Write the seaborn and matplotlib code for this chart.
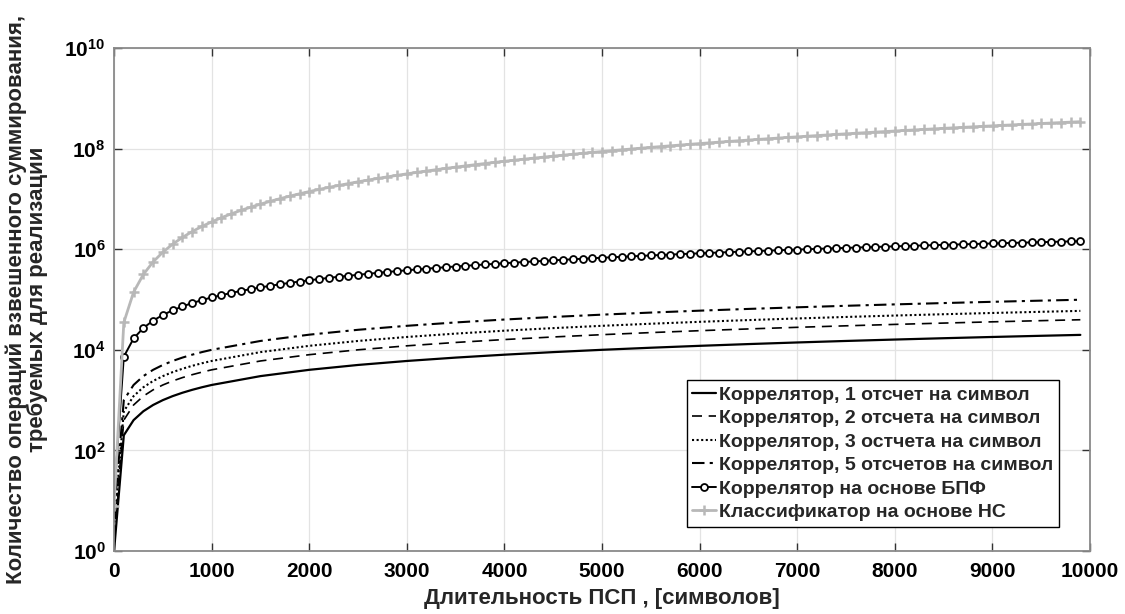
import numpy as np
import pandas as pd
import seaborn as sns
import matplotlib
matplotlib.use("Agg")
import matplotlib.pyplot as plt
from matplotlib.ticker import NullLocator

# --- data (x = sequence length, y = operations) ---
x_corr = [1, 101, 201, 301, 401, 501, 601, 701, 801, 901, 1001, 1501, 2001, 2501,
          3001, 3501, 4001, 4501, 5001, 5501, 6001, 6501, 7001, 7501, 8001, 8501,
          9001, 9501, 9901]
corr_1 = [1, 200, 400, 600, 800, 1000, 1200, 1400, 1600, 1800, 2000, 3000, 4000, 5000,
          6000, 7000, 8000, 9000, 10000, 11000, 12000, 13000, 14000, 15000, 16000, 17000,
          18000, 19000, 19800]
corr_2 = [2, 400, 800, 1200, 1600, 2000, 2400, 2800, 3200, 3600, 4000, 6000, 8000, 10000,
          12000, 14000, 16000, 18000, 20000, 22000, 24000, 26000, 28000, 30000, 32000, 34000,
          36000, 38000, 39600]
corr_3 = [3, 600, 1200, 1800, 2400, 3000, 3600, 4200, 4800, 5400, 6000, 9000, 12000, 15000,
          18000, 21000, 24000, 27000, 30000, 33000, 36000, 39000, 42000, 45000, 48000, 51000,
          54000, 57000, 59400]
corr_5 = [5, 1000, 2000, 3000, 4000, 5000, 6000, 7000, 8000, 9000, 10000, 15000, 20000, 25000,
          30000, 35000, 40000, 45000, 50000, 55000, 60000, 65000, 70000, 75000, 80000, 85000,
          90000, 95000, 99000]

x_mark = [1, 101, 201, 301, 401, 501, 601, 701, 801, 901,
          1001, 1101, 1201, 1301, 1401, 1501, 1601, 1701, 1801, 1901,
          2001, 2101, 2201, 2301, 2401, 2501, 2601, 2701, 2801, 2901,
          3001, 3101, 3201, 3301, 3401, 3501, 3601, 3701, 3801, 3901,
          4001, 4101, 4201, 4301, 4401, 4501, 4601, 4701, 4801, 4901,
          5001, 5101, 5201, 5301, 5401, 5501, 5601, 5701, 5801, 5901,
          6001, 6101, 6201, 6301, 6401, 6501, 6601, 6701, 6801, 6901,
          7001, 7101, 7201, 7301, 7401, 7501, 7601, 7701, 7801, 7901,
          8001, 8101, 8201, 8301, 8401, 8501, 8601, 8701, 8801, 8901,
          9001, 9101, 9201, 9301, 9401, 9501, 9601, 9701, 9801, 9901]

# FFT correlator, operations in thousands
fft_k = [0.012, 7.31, 16.8, 27.2, 38.0, 49.3, 60.9, 72.8, 84.9, 97.2,
         110, 122, 135, 148, 161, 174, 187, 201, 214, 228,
         241, 255, 269, 283, 296, 310, 324, 339, 353, 367,
         381, 396, 410, 424, 439, 453, 468, 482, 497, 512,
         527, 541, 556, 571, 586, 601, 616, 631, 646, 661,
         676, 691, 706, 721, 737, 752, 767, 782, 798, 813,
         828, 844, 859, 875, 890, 906, 921, 937, 952, 968,
         984, 999, 1015, 1031, 1046, 1062, 1078, 1094, 1109, 1125,
         1141, 1157, 1173, 1189, 1205, 1220, 1236, 1252, 1268, 1284,
         1300, 1317, 1333, 1349, 1365, 1381, 1397, 1413, 1429, 1445]

# NN classifier, operations in units of 1e4
nn_e4 = [0.0008, 3.5, 14, 31.5, 56, 87.5, 126, 171.5, 224, 283.5,
         350, 423.5, 504, 591.5, 686, 787.5, 896, 1011.5, 1134, 1263.5,
         1400, 1543.5, 1694, 1851.5, 2016, 2187.5, 2366, 2551.5, 2744, 2943.5,
         3150, 3363.5, 3584, 3811.5, 4046, 4287.5, 4536, 4791.5, 5054, 5323.5,
         5600, 5883.5, 6174, 6471.5, 6776, 7087.5, 7406, 7731.5, 8064, 8403.5,
         8750, 9103.5, 9464, 9831.5, 10206, 10587.5, 10976, 11371.5, 11774, 12183.5,
         12600, 13023.5, 13454, 13891.5, 14336, 14787.5, 15246, 15711.5, 16184, 16663.5,
         17150, 17643.5, 18144, 18651.5, 19166, 19687.5, 20216, 20751.5, 21294, 21843.5,
         22400, 22963.5, 23534, 24111.5, 24696, 25287.5, 25886, 26491.5, 27104, 27723.5,
         28350, 28983.5, 29624, 30271.5, 30926, 31587.5, 32256, 32931.5, 33614, 34303.5]

labels = ["Коррелятор, 1 отсчет на символ",
          "Коррелятор, 2 отсчета на символ",
          "Коррелятор, 3 остчета на символ",
          "Коррелятор, 5 отсчетов на символ",
          "Коррелятор на основе БПФ",
          "Классификатор на основе НС"]

sns.set_theme(style="ticks")
plt.rcParams["font.family"] = ["Liberation Sans", "DejaVu Sans"]
plt.rcParams["font.weight"] = "bold"
plt.rcParams["mathtext.fontset"] = "custom"
plt.rcParams["mathtext.bf"] = "Liberation Sans:bold"
plt.rcParams["mathtext.rm"] = "Liberation Sans:bold"

fig = plt.figure(figsize=(11.25, 6.14), dpi=100)
ax = fig.add_axes([0.1013, 0.1026, 0.8676, 0.8192])

fft_y = np.array(fft_k) * 1e3
nn_y = np.array(nn_e4) * 1e4
grey = "#b8b8b8"

sns.lineplot(x=x_corr, y=corr_1, ax=ax, color="black", lw=1.6, linestyle="-",
             label=labels[0], estimator=None, sort=False)
sns.lineplot(x=x_corr, y=corr_2, ax=ax, color="black", lw=1.2, linestyle=(0, (6, 4)),
             label=labels[1], estimator=None, sort=False)
sns.lineplot(x=x_corr, y=corr_3, ax=ax, color="black", lw=1.5, linestyle=(0, (1, 1.2)),
             label=labels[2], estimator=None, sort=False)
sns.lineplot(x=x_corr, y=corr_5, ax=ax, color="black", lw=1.5, linestyle=(0, (6, 2.5, 1.5, 2.5)),
             label=labels[3], estimator=None, sort=False)
sns.lineplot(x=x_mark, y=fft_y, ax=ax, color="black", lw=1.4, marker="o", markersize=5,
             markerfacecolor="white", markeredgecolor="black", markeredgewidth=1.3,
             label=labels[4], estimator=None, sort=False)
sns.lineplot(x=x_mark, y=nn_y, ax=ax, color=grey, lw=2.0, marker="+", markersize=7,
             markeredgecolor=grey, markeredgewidth=1.8, label=labels[5],
             estimator=None, sort=False)

ax.set_yscale("log")
ax.set_xlim(0, 10000)
ax.set_ylim(1, 1e10)
ax.set_xticks(range(0, 10001, 1000))
ax.set_xticklabels([str(v) for v in range(0, 10001, 1000)], fontsize=15, fontweight="bold")
exps = [0, 2, 4, 6, 8, 10]
ax.set_yticks([10.0 ** e for e in exps])
ax.set_yticklabels([r"$\mathbf{10^{%d}}$" % e for e in exps], fontsize=15)
ax.yaxis.set_minor_locator(NullLocator())
ax.grid(True, color="#e3e3e3", lw=0.9)
ax.tick_params(axis="x", pad=8)
ax.tick_params(axis="y", pad=6)
ax.tick_params(direction="in", length=6, width=1, top=True, right=True,
               colors="#333333", labelcolor="black")
for s in ax.spines.values():
    s.set_color("#8a8a8a")
    s.set_linewidth(1.3)

ax.set_xlabel("Длительность ПСП , [символов]", fontsize=16, fontweight="bold", labelpad=5)
ax.set_ylabel("Количество операций взвешенного суммирования,\nтребуемых для реализации",
              fontsize=16, fontweight="bold", labelpad=12, linespacing=1.0)

leg = ax.legend(loc="lower right", bbox_to_anchor=(0.968, 0.048), fontsize=14,
                frameon=True, fancybox=False, framealpha=1, edgecolor="black",
                handlelength=1.2, handletextpad=0.15, labelspacing=0.3, borderpad=0.3,
                borderaxespad=0)
leg.get_frame().set_linewidth(1.0)
for t in leg.get_texts():
    t.set_fontweight("bold")

fig.savefig("out.png", dpi=100)
